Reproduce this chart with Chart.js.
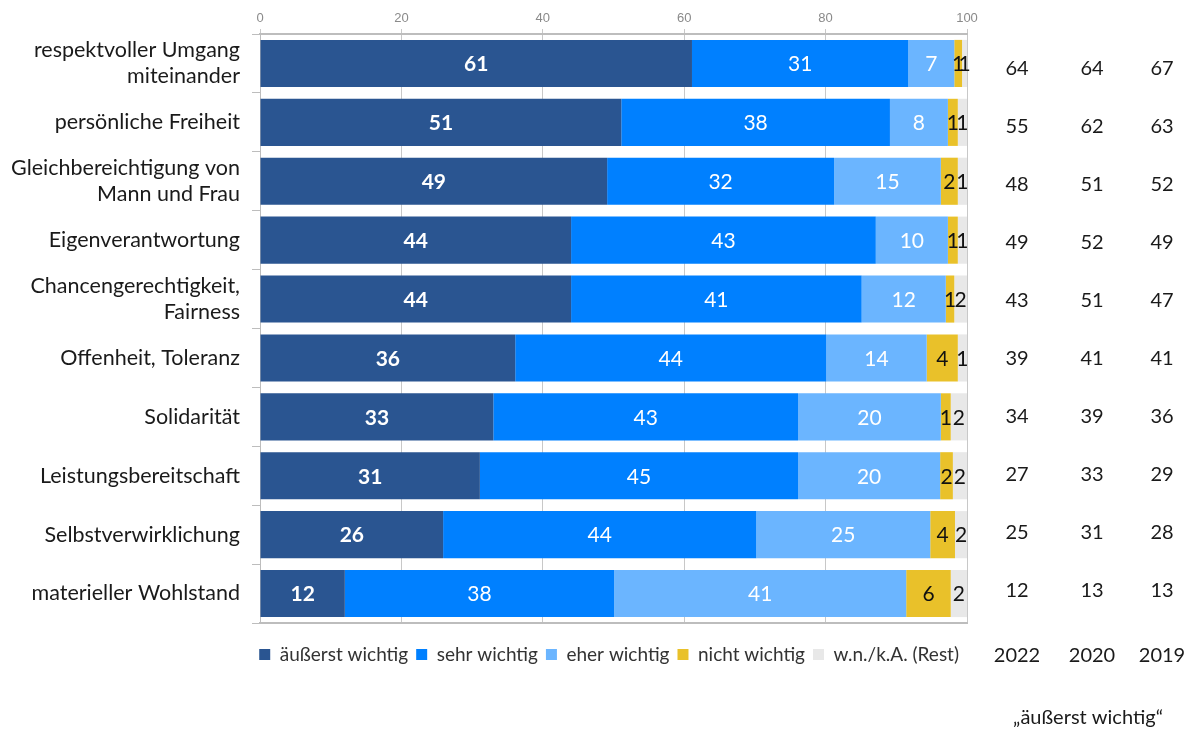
<!DOCTYPE html>
<html>
<head>
<meta charset="utf-8">
<script src="https://cdn.jsdelivr.net/npm/chart.js@4.4.1/dist/chart.umd.min.js"></script>
<style>
  html, body { margin: 0; padding: 0; background: #fff; }
  #wrap { width: 1195px; height: 736px; position: relative; }
</style>
</head>
<body>
<div id="wrap"><canvas id="myChart" width="1195" height="736"></canvas></div>
<script>
// categories
var labels = [
    ['respektvoller Umgang', 'miteinander'],
    'persönliche Freiheit',
    ['Gleichbereichtigung von', 'Mann und Frau'],
    'Eigenverantwortung',
    ['Chancengerechtigkeit,', 'Fairness'],
    'Offenheit, Toleranz',
    'Solidarität',
    'Leistungsbereitschaft',
    'Selbstverwirklichung',
    'materieller Wohlstand'
];

// shares in percent
var aeusserst = [61.1, 51.1, 49.1, 44.0, 44.0, 36.1, 33.0, 31.1, 25.9, 12.0];
var sehr      = [30.6, 38.0, 32.1, 43.1, 41.1, 44.0, 43.1, 45.0, 44.3, 38.1];
var eher      = [6.5,  8.2,  15.1, 10.2, 11.9, 14.2, 20.2, 20.1, 24.6, 41.3];
var nicht     = [1.1,  1.4,  2.4,  1.4,  1.2,  4.4,  1.4,  1.8,  3.5,  6.3];
var rest      = [0.7,  1.3,  1.3,  1.3,  1.8,  1.3,  2.3,  2.0,  1.7,  2.3];

// "äußerst wichtig" in earlier years
var years  = ['2022', '2020', '2019'];
var y2022  = [64, 55, 48, 49, 43, 39, 34, 27, 25, 12];
var y2020  = [64, 62, 51, 52, 51, 41, 39, 33, 31, 13];
var y2019  = [67, 63, 52, 49, 47, 41, 36, 29, 28, 13];

var xTicks = [0, 20, 40, 60, 80, 100];

var FONT = 'Lato, "Noto Sans", sans-serif';

// numbers inside the bars
var barLabels = {
    id: 'barLabels',
    afterDatasetsDraw: function (chart) {
        var ctx = chart.ctx;
        ctx.save();
        ctx.textAlign = 'center';
        ctx.textBaseline = 'middle';
        chart.data.datasets.forEach(function (ds, di) {
            var meta = chart.getDatasetMeta(di);
            ctx.font = (di === 0 ? 'bold ' : '') + '21px ' + FONT;
            ctx.fillStyle = di < 3 ? '#ffffff' : '#111111';
            meta.data.forEach(function (bar, i) {
                var x = (bar.x + bar.base) / 2;
                ctx.fillText(String(Math.round(ds.data[i])), x, bar.y + 1);
            });
        });
        ctx.restore();
    }
};

// table on the right
var sideTable = {
    id: 'sideTable',
    afterDraw: function (chart) {
        var ctx = chart.ctx;
        var cols = [y2022, y2020, y2019];
        var xs = [1017, 1092, 1162];
        ctx.save();
        ctx.fillStyle = '#1a1a1a';
        ctx.textAlign = 'center';
        ctx.textBaseline = 'middle';
        ctx.font = '20px ' + FONT;
        cols.forEach(function (col, c) {
            col.forEach(function (v, i) {
                ctx.fillText(String(v), xs[c], 69 + i * 57.9);
            });
            ctx.fillText(years[c], xs[c], 656);
        });
        ctx.fillText('\u201eäußerst wichtig\u201c', 1088, 718);
        ctx.restore();
    }
};

var ctx = document.getElementById('myChart').getContext('2d');
var myChart = new Chart(ctx, {
    type: 'bar',
    data: {
        labels: labels,
        datasets: [
            { label: 'äußerst wichtig', data: aeusserst, backgroundColor: '#2a5591' },
            { label: 'sehr wichtig', data: sehr, backgroundColor: '#0080ff' },
            { label: 'eher wichtig', data: eher, backgroundColor: '#6bb5ff' },
            { label: 'nicht wichtig', data: nicht, backgroundColor: '#e9c12a' },
            { label: 'w.n./k.A. (Rest)', data: rest, backgroundColor: '#e8e8e8' }
        ]
    },
    plugins: [barLabels, sideTable],
    options: {
        responsive: false,
        animation: false,
        indexAxis: 'y',
        layout: { padding: { left: 0, right: 228, top: 6, bottom: 62 } },
        datasets: {
            bar: { barPercentage: 0.8, categoryPercentage: 1.0, borderWidth: 0 }
        },
        scales: {
            x: {
                position: 'top',
                stacked: true,
                min: 0,
                max: 100,
                afterBuildTicks: function (scale) {
                    scale.ticks = xTicks.map(function (v) { return { value: v }; });
                },
                afterFit: function (scale) { scale.height = 28; },
                grid: { color: '#c8c8c8', tickLength: 5 },
                border: { color: '#bdbdbd', width: 2 },
                ticks: {
                    color: '#8a8a8a',
                    padding: 3,
                    font: { family: '"Liberation Sans Narrow", "Liberation Sans", sans-serif', size: 13 }
                }
            },
            x2: {
                type: 'linear',
                position: 'bottom',
                min: 0,
                max: 100,
                afterFit: function (scale) { scale.height = 14; },
                grid: { display: false },
                border: { display: true, color: '#bdbdbd', width: 2 },
                ticks: { display: false }
            },
            y: {
                stacked: true,
                afterFit: function (scale) { scale.width = 260; },
                grid: { drawOnChartArea: false, color: '#bdbdbd', tickLength: 8 },
                border: { color: '#bdbdbd', width: 1 },
                ticks: {
                    color: '#1a1a1a',
                    padding: 12,
                    font: { family: FONT, size: 21.5, lineHeight: 1.2 }
                }
            }
        },
        plugins: {
            legend: {
                position: 'bottom',
                align: 'end',
                labels: {
                    boxWidth: 11,
                    boxHeight: 11,
                    padding: 8,
                    color: '#333',
                    font: { family: FONT, size: 19 }
                }
            },
            tooltip: { enabled: false }
        }
    }
});
</script>
</body>
</html>
